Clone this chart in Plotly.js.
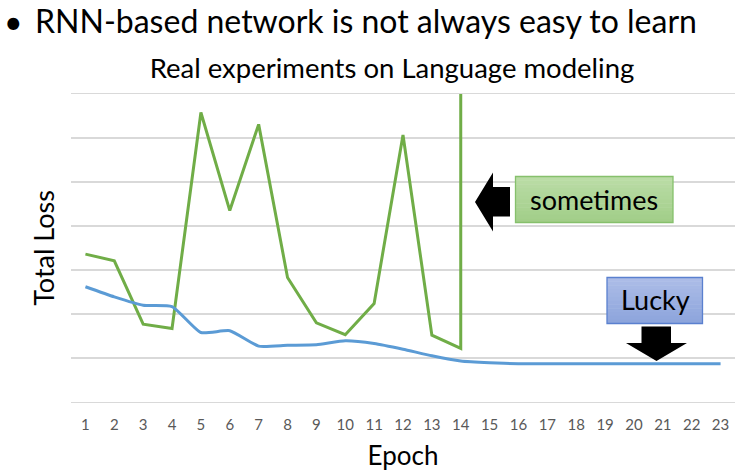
<!DOCTYPE html>
<html>
<head>
<meta charset="utf-8">
<script src="https://cdn.plot.ly/plotly-3.0.1.min.js"></script>
<style>html,body{margin:0;padding:0;background:#fff;}#chart{width:748px;height:474px;}</style>
</head>
<body>
<div id="chart"></div>
<script>
// ---- data ----
const epochs = [1,2,3,4,5,6,7,8,9,10,11,12,13,14,15,16,17,18,19,20,21,22,23];
const tickLabels = ["1","2","3","4","5","6","7","8","9","10","11","12","13","14","15","16","17","18","19","20","21","22","23"];
// "sometimes" run (green): diverges after epoch 14 (vertical spike off the chart)
const sometimesEpochs = [1,2,3,4,5,6,7,8,9,10,11,12,13,14,14];
const sometimesLoss   = [3.36,3.21,1.77,1.67,6.58,4.35,6.31,2.83,1.80,1.53,2.24,6.07,1.52,1.22,9.0];
// "Lucky" run (blue)
const luckyLoss = [2.62,2.39,2.20,2.17,1.58,1.62,1.27,1.29,1.30,1.39,1.33,1.20,1.05,0.93,0.89,0.87,0.87,0.87,0.87,0.87,0.87,0.87,0.87];

const headingText = "RNN-based network is not always easy to learn";
const chartTitle = "Real experiments on Language modeling";
const xTitle = "Epoch";
const yTitle = "Total Loss";
const boxSometimes = "sometimes";
const boxLucky = "Lucky";

// ---- layout helpers (pixel -> paper) ----
const W = 748, H = 474;
const L = 71, R = 13, T = 94, B = 72;
const PW = W - L - R, PH = H - T - B;
const px = x => (x - L) / PW;
const py = y => (H - B - y) / PH;
const FONT = "Lato, 'Open Sans', sans-serif";

function lerp(a, b, t) { return Math.round(a + (b - a) * t); }
function gradientRect(x0, y0, x1, y1, c0, c1, border, n) {
  const out = [];
  for (let i = 0; i < n; i++) {
    const t = i / (n - 1);
    const col = `rgb(${lerp(c0[0],c1[0],t)},${lerp(c0[1],c1[1],t)},${lerp(c0[2],c1[2],t)})`;
    const ya = y0 + (y1 - y0) * i / n, yb = y0 + (y1 - y0) * (i + 1) / n;
    out.push({type:'rect', xref:'paper', yref:'paper', x0:px(x0), x1:px(x1), y0:py(ya), y1:py(yb+0.5),
      fillcolor: col, line:{width:0}, layer:'above'});
  }
  out.push({type:'rect', xref:'paper', yref:'paper', x0:px(x0), x1:px(x1), y0:py(y0), y1:py(y1),
    fillcolor:'rgba(0,0,0,0)', line:{color:border, width:1.3}, layer:'above'});
  return out;
}
function poly(pts) {
  return 'M ' + pts.map(p => px(p[0]).toFixed(5) + ',' + py(p[1]).toFixed(5)).join(' L ') + ' Z';
}

const shapes = [];
shapes.push(...gradientRect(515.5, 176.5, 673, 222.5, [186,220,166], [162,206,137], '#86c06c', 12));
shapes.push(...gradientRect(607, 277.5, 702.5, 323.5, [172,188,231], [141,165,220], '#5a80cf', 12));
// left arrow
shapes.push({type:'path', xref:'paper', yref:'paper', layer:'above', fillcolor:'#000', line:{width:0},
  path: poly([[475,202],[493,172.5],[493,187],[510,187],[510,216.5],[493,216.5],[493,231.5]])});
// down arrow
shapes.push({type:'path', xref:'paper', yref:'paper', layer:'above', fillcolor:'#000', line:{width:0},
  path: poly([[641.5,326.5],[671,326.5],[671,343],[687,343],[656.5,361],[626,343],[641.5,343]])});

const annotations = [
  {text:'•', xref:'paper', yref:'paper', x:px(13.5), y:py(22), xanchor:'center', yanchor:'middle',
   showarrow:false, font:{family:FONT, size:32, color:'#000'}},
  {text:headingText, xref:'paper', yref:'paper', x:px(33), y:py(21), xanchor:'left', yanchor:'middle',
   showarrow:false, font:{family:FONT, size:32, color:'#000'}},
  {text:boxSometimes, xref:'paper', yref:'paper', x:px(594), y:py(199), xanchor:'center', yanchor:'middle',
   showarrow:false, font:{family:FONT, size:27, color:'#000'}},
  {text:boxLucky, xref:'paper', yref:'paper', x:px(655), y:py(299), xanchor:'center', yanchor:'middle',
   showarrow:false, font:{family:FONT, size:27, color:'#000'}}
];

const traces = [
  {x: sometimesEpochs, y: sometimesLoss, type:'scatter', mode:'lines', name:'sometimes',
   line:{color:'#70AD47', width:3, shape:'linear'}, hoverinfo:'skip'},
  {x: epochs, y: luckyLoss, type:'scatter', mode:'lines', name:'Lucky',
   line:{color:'#5B9BD5', width:3, shape:'spline', smoothing:0.5}, hoverinfo:'skip'}
];

const layout = {
  width: W, height: H,
  margin: {l:L, r:R, t:T, b:B, pad:0},
  paper_bgcolor:'#fff', plot_bgcolor:'#fff',
  showlegend:false,
  font:{family:FONT, color:'#000'},
  title:{text:chartTitle, xref:'container', yref:'container', x:392/W, y:1-68/H,
         xanchor:'center', yanchor:'middle', font:{family:FONT, size:27.5, color:'#000'}},
  xaxis:{range:[0.5,23.5], tickvals:epochs, ticktext:tickLabels, showgrid:false, zeroline:false,
         showline:true, mirror:true, linecolor:'#d9d9d9', linewidth:1.3, ticks:'',
         ticklabelstandoff:9, tickfont:{family:FONT, size:15, color:'#595959'},
         title:{text:xTitle, font:{family:FONT, size:26, color:'#000'}, standoff:14}, fixedrange:true},
  yaxis:{range:[0,7.0], tickvals:[0,1,2,3,4,5,6,7], showticklabels:false, showgrid:true,
         gridcolor:'#d9d9d9', gridwidth:1.3, zeroline:false, showline:false, ticks:'',
         title:{text:yTitle, font:{family:FONT, size:27, color:'#000'}, standoff:7}, fixedrange:true},
  shapes: shapes,
  annotations: annotations
};

Plotly.newPlot('chart', traces, layout, {staticPlot:true, displayModeBar:false});
</script>
</body>
</html>
